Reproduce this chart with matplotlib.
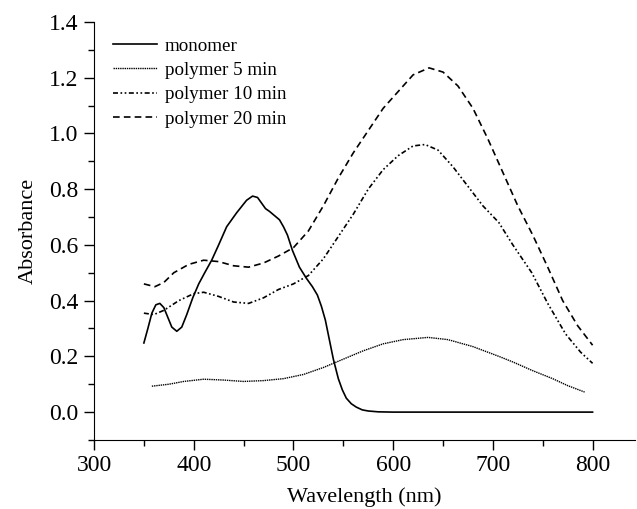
import matplotlib.pyplot as plt
from matplotlib.ticker import MultipleLocator

plt.rcParams['font.family'] = ['Liberation Serif', 'DejaVu Serif']

# Absorbance spectra

mono_x = [350, 354, 358, 362, 366, 370, 374, 378, 383, 388, 393, 399, 405, 411, 418,
          425, 433, 443, 453, 459, 464, 468, 472, 476, 481, 486, 490, 494, 499, 506,
          513, 519, 524, 528, 532, 536, 540, 545, 549, 553, 558, 563, 569, 575, 585,
          600, 650, 700, 750, 800]
mono_y = [0.248, 0.30, 0.355, 0.385, 0.39, 0.375, 0.34, 0.305, 0.29, 0.305, 0.35, 0.41,
          0.46, 0.50, 0.545, 0.60, 0.665, 0.715, 0.76, 0.775, 0.77, 0.75, 0.73, 0.72,
          0.705, 0.69, 0.665, 0.635, 0.58, 0.52, 0.48, 0.45, 0.42, 0.38, 0.33, 0.26,
          0.19, 0.12, 0.08, 0.05, 0.03, 0.018, 0.008, 0.004, 0.001, 0.0, 0.0, 0.0, 0.0, 0.0]

p5_x = [358, 375, 390, 410, 430, 450, 470, 490, 510, 530, 550, 570, 590, 610, 635,
        655, 680, 706, 720, 739, 760, 775, 792]
p5_y = [0.093, 0.10, 0.11, 0.118, 0.115, 0.11, 0.113, 0.12, 0.135, 0.16, 0.19, 0.22,
        0.245, 0.26, 0.268, 0.26, 0.235, 0.20, 0.18, 0.15, 0.12, 0.095, 0.072]

p10_x = [350, 360, 370, 385, 400, 410, 425, 440, 455, 470, 485, 500, 515, 530, 545,
         560, 575, 590, 605, 620, 632, 645, 660, 675, 690, 706, 720, 739, 755, 773,
         788, 800]
p10_y = [0.355, 0.35, 0.365, 0.40, 0.425, 0.43, 0.415, 0.395, 0.39, 0.41, 0.44, 0.46,
         0.49, 0.55, 0.63, 0.71, 0.80, 0.87, 0.92, 0.955, 0.96, 0.94, 0.88, 0.81, 0.74,
         0.68, 0.60, 0.50, 0.39, 0.28, 0.215, 0.175]

p20_x = [350, 361, 370, 380, 395, 410, 425, 440, 455, 470, 485, 500, 515, 530, 545,
         560, 575, 590, 605, 620, 636, 650, 665, 680, 695, 710, 725, 740, 755, 770,
         785, 800]
p20_y = [0.46, 0.45, 0.465, 0.50, 0.53, 0.545, 0.54, 0.525, 0.52, 0.535, 0.56, 0.59,
         0.65, 0.74, 0.84, 0.93, 1.01, 1.09, 1.15, 1.21, 1.235, 1.22, 1.17, 1.09, 0.98,
         0.86, 0.74, 0.635, 0.52, 0.40, 0.31, 0.24]

fig = plt.figure(figsize=(6.37, 5.09), dpi=100)
ax = fig.add_axes([0.1476, 0.1356, 0.85, 0.8214])

ax.plot(mono_x, mono_y, c='black', lw=1.2, ls='-', label='monomer')
ax.plot(p5_x, p5_y, c='black', lw=1.0, ls=(0, (1, 0.6)), label='polymer 5 min')
ax.plot(p10_x, p10_y, c='black', lw=1.2, ls=(0, (3, 1.5, 1, 1.5, 1, 1.5)), label='polymer 10 min')
ax.plot(p20_x, p20_y, c='black', lw=1.2, ls=(0, (4, 2.5)), label='polymer 20 min')

ax.set_xlim(300, 843)
ax.set_ylim(-0.1, 1.4)
ax.xaxis.set_major_locator(MultipleLocator(100))
ax.xaxis.set_minor_locator(MultipleLocator(50))
ax.set_yticks([0.0, 0.2, 0.4, 0.6, 0.8, 1.0, 1.2, 1.4])
ax.set_yticklabels(['0.0', '0.2', '0.4', '0.6', '0.8', '1.0', '1.2', '1.4'])
ax.yaxis.set_minor_locator(MultipleLocator(0.1))

ax.spines['top'].set_visible(False)
ax.spines['right'].set_visible(False)
ax.tick_params(which='major', direction='out', length=7, width=1, labelsize=17, pad=4)
ax.tick_params(which='minor', direction='out', length=4, width=1)

ax.set_xlabel('Wavelength (nm)', fontsize=16, labelpad=8)
ax.set_ylabel('Absorbance', fontsize=16, labelpad=8)

ax.legend(loc='upper left', bbox_to_anchor=(0.01, 0.995), frameon=False, fontsize=13.7,
          handlelength=2.3, handletextpad=0.42, labelspacing=0.37, borderaxespad=0.3)

fig.savefig('out.png', dpi=100)
